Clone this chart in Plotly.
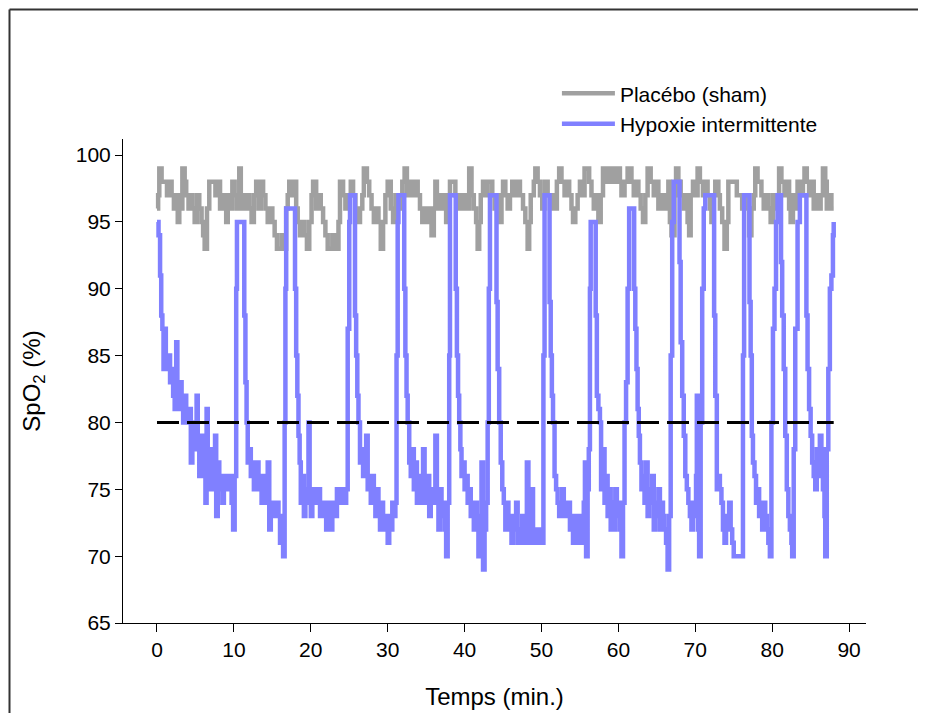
import plotly.graph_objects as go

# ---------------- data ----------------
placebo_t = [0, 0.15, 0.3, 0.6, 1.0, 1.3, 1.5, 1.9, 2.2, 2.5, 2.7, 2.9, 3.1, 3.3, 3.6, 3.8, 4.1, 4.4, 4.6, 4.9,
             5.2, 5.5, 5.8, 6.0, 6.2, 6.5, 6.8, 7.3, 7.6, 7.9, 8.2, 8.5, 8.8, 9.0, 9.2, 9.5, 9.8, 10.1, 10.4, 10.7,
             10.9, 11.1, 11.4, 11.7, 12.0, 12.3, 12.6, 12.9, 13.2, 13.5, 13.8, 14.1, 14.4, 14.7, 15.0, 15.3, 15.6, 16.2, 16.5, 16.8,
             17.0, 17.2, 17.5, 17.8, 18.1, 18.3, 18.6, 18.9, 19.2, 19.5, 19.8, 20.1, 20.3, 20.7, 21.0, 21.3, 21.6, 21.9, 22.2, 22.8,
             23.2, 23.6, 23.8, 24.2, 24.5, 24.8, 25.2, 25.5, 25.8, 26.1, 26.4, 26.7, 26.9, 27.3, 27.6, 27.9, 28.2, 28.5, 28.8, 29.1,
             29.4, 29.7, 30.0, 30.4, 30.7, 31.0, 31.3, 31.6, 31.9, 32.2, 32.5, 32.8, 33.2, 33.5, 33.9, 34.2, 34.5, 34.8, 35.1, 35.4,
             35.7, 36.0, 36.2, 36.4, 36.7, 37.0, 37.3, 37.6, 37.9, 38.1, 38.8, 39.1, 39.4, 39.7, 40.0, 40.3, 40.6, 40.9, 41.2, 41.5,
             41.7, 41.9, 42.1, 42.4, 42.7, 43.0, 43.6, 43.9, 44.2, 44.5, 44.8, 45.0, 45.3, 45.6, 45.9, 46.2, 46.6, 46.9, 47.2, 47.6,
             47.9, 48.2, 48.4, 48.6, 49.0, 49.2, 49.5, 49.8, 50.1, 50.4, 50.8, 51.1, 51.4, 51.7, 52.0, 52.3, 52.6, 53.0, 53.3, 53.6,
             53.9, 54.1, 54.4, 54.7, 55.0, 55.4, 55.6, 56.2, 56.5, 56.8, 57.1, 57.4, 57.7, 58.0, 58.4, 58.6, 59.0, 59.2, 59.5, 59.8,
             60.2, 60.4, 60.8, 61.2, 61.7, 62.0, 62.3, 62.6, 62.9, 63.2, 63.5, 63.8, 64.2, 64.6, 64.9, 65.2, 65.6, 65.9, 66.2, 66.5,
             66.7, 66.9, 67.3, 67.5, 67.8, 68.1, 68.5, 68.8, 69.0, 69.2, 69.4, 69.7, 70.0, 70.3, 70.6, 71.0, 71.3, 71.6, 71.9, 72.1,
             72.3, 72.6, 73.0, 73.2, 73.5, 73.8, 74.1, 74.3, 75.4, 75.8, 76.1, 76.4, 76.7, 77.0, 77.3, 77.6, 77.8, 78.1, 78.6, 78.9,
             79.2, 79.5, 79.8, 80.1, 80.4, 80.7, 80.9, 81.2, 81.6, 81.9, 82.2, 82.4, 82.7, 83.0, 83.3, 83.7, 84.0, 84.2, 84.5, 84.8,
             85.1, 85.4, 85.7, 86.0, 86.3, 86.6, 86.9, 87.1, 87.4, 87.7, 88.0]
placebo_v = [96, 97, 99, 98, 98, 97, 98, 97, 96, 97, 95, 97, 96, 99, 98, 97, 96, 97, 96, 95,
             97, 96, 95, 94, 93, 96, 98, 98, 97, 98, 96, 97, 96, 95, 97, 96, 98, 97, 96, 99,
             96, 97, 96, 97, 96, 95, 97, 98, 96, 98, 97, 96, 95, 96, 95, 94, 93, 94, 93, 96,
             97, 98, 97, 98, 96, 95, 94, 95, 94, 93, 95, 97, 98, 96, 97, 96, 95, 94, 93, 94,
             93, 95, 98, 97, 96, 97, 98, 97, 96, 95, 96, 97, 99, 98, 97, 96, 95, 96, 95, 93,
             95, 97, 98, 96, 95, 97, 96, 97, 98, 99, 97, 98, 97, 98, 97, 96, 95, 96, 95, 96,
             94, 96, 98, 96, 97, 96, 97, 95, 97, 98, 97, 96, 97, 96, 97, 96, 99, 97, 96, 95,
             93, 95, 97, 98, 97, 98, 97, 96, 97, 95, 97, 98, 97, 96, 97, 98, 97, 98, 97, 96,
             95, 93, 95, 97, 98, 99, 98, 97, 96, 98, 97, 96, 97, 96, 98, 99, 98, 97, 98, 97,
             96, 95, 96, 97, 98, 97, 99, 98, 97, 96, 97, 95, 97, 99, 98, 99, 98, 99, 98, 99,
             98, 97, 98, 99, 98, 97, 98, 97, 96, 95, 97, 99, 98, 97, 98, 96, 97, 96, 97, 98,
             95, 94, 97, 99, 98, 97, 96, 97, 95, 94, 97, 98, 97, 99, 98, 97, 98, 97, 96, 95,
             97, 98, 97, 96, 95, 93, 95, 98, 97, 97, 96, 97, 96, 94, 96, 97, 99, 98, 97, 96,
             97, 96, 95, 97, 96, 97, 99, 98, 97, 98, 96, 95, 97, 96, 98, 97, 98, 99, 98, 97,
             98, 96, 97, 96, 97, 99, 98, 96, 97, 96, 96]

hypoxia_t = [0, 0.2, 0.4, 0.55, 0.7, 0.85, 1.0, 1.15, 1.3, 1.5, 1.7, 1.9, 2.1, 2.3, 2.5, 2.65, 2.8, 3.0, 3.2, 3.4,
             3.6, 3.8, 4.0, 4.2, 4.4, 4.6, 4.8, 5.0, 5.15, 5.3, 5.5, 5.7, 5.9, 6.1, 6.3, 6.45, 6.6, 6.8, 7.0, 7.2,
             7.4, 7.55, 7.7, 7.9, 8.1, 8.3, 8.5, 8.7, 8.9, 9.1, 9.3, 9.5, 9.7, 9.9, 10.1, 10.3, 10.4, 11.2, 11.35, 11.5,
             11.65, 11.8, 12.0, 12.2, 12.4, 12.6, 12.8, 13.0, 13.2, 13.4, 13.6, 13.8, 14.0, 14.2, 14.4, 14.6, 14.8, 15.0, 15.2, 15.4,
             15.6, 15.8, 16.0, 16.2, 16.4, 16.6, 16.7, 16.8, 17.8, 17.95, 18.1, 18.25, 18.4, 18.55, 18.7, 18.9, 19.1, 19.3, 19.5, 19.7,
             19.85, 20.0, 20.2, 20.4, 20.6, 20.8, 21.0, 21.2, 21.4, 21.6, 21.8, 22.0, 22.2, 22.4, 22.6, 22.8, 23.0, 23.2, 23.4, 23.6,
             23.8, 24.0, 24.2, 24.4, 24.6, 24.8, 25.0, 25.1, 25.6, 25.75, 25.9, 26.05, 26.2, 26.4, 26.6, 26.8, 27.0, 27.2, 27.4, 27.6,
             27.8, 28.0, 28.2, 28.4, 28.6, 28.8, 29.0, 29.2, 29.4, 29.6, 29.8, 30.0, 30.2, 30.4, 30.6, 30.8, 31.0, 31.15, 31.3, 31.4,
             32.0, 32.15, 32.3, 32.45, 32.6, 32.8, 33.0, 33.2, 33.4, 33.6, 33.8, 34.0, 34.2, 34.4, 34.6, 34.8, 35.0, 35.2, 35.4, 35.6,
             35.8, 36.0, 36.2, 36.4, 36.6, 36.8, 37.0, 37.2, 37.4, 37.6, 37.8, 38.0, 38.1, 38.7, 38.85, 39.0, 39.15, 39.3, 39.45, 39.6,
             39.8, 40.0, 40.2, 40.4, 40.6, 40.8, 41.0, 41.2, 41.4, 41.6, 41.8, 42.0, 42.2, 42.4, 42.6, 42.8, 43.0, 43.15, 43.3, 44.0,
             44.15, 44.3, 44.5, 44.7, 44.9, 45.1, 45.3, 45.5, 45.7, 45.9, 46.1, 46.3, 46.5, 46.7, 46.9, 47.1, 47.3, 47.5, 47.7, 47.9,
             48.1, 48.3, 48.5, 48.7, 48.9, 49.1, 49.3, 49.5, 49.7, 49.9, 50.1, 50.25, 50.4, 50.9, 51.05, 51.2, 51.35, 51.5, 51.7, 51.9,
             52.1, 52.3, 52.5, 52.7, 52.9, 53.1, 53.3, 53.5, 53.7, 53.9, 54.1, 54.3, 54.5, 54.7, 54.9, 55.1, 55.3, 55.5, 55.65, 55.8,
             56.0, 56.15, 56.3, 56.4, 56.9, 57.05, 57.2, 57.4, 57.6, 57.75, 57.9, 58.05, 58.2, 58.4, 58.6, 58.8, 59.0, 59.2, 59.4, 59.6,
             59.8, 60.0, 60.2, 60.4, 60.6, 60.8, 61.0, 61.2, 61.4, 61.9, 62.05, 62.2, 62.35, 62.5, 62.65, 62.8, 63.0, 63.2, 63.4, 63.6,
             63.8, 64.0, 64.2, 64.4, 64.6, 64.8, 65.0, 65.2, 65.4, 65.6, 65.8, 66.0, 66.2, 66.4, 66.6, 66.8, 67.0, 67.2, 67.8, 67.95,
             68.1, 68.3, 68.5, 68.7, 68.9, 69.1, 69.3, 69.5, 69.7, 69.9, 70.1, 70.2, 70.35, 70.5, 70.7, 70.9, 71.1, 71.3, 72.3, 72.45,
             72.6, 72.8, 73.0, 73.2, 73.4, 73.6, 73.8, 74.0, 74.2, 74.4, 74.6, 74.8, 75.0, 76.1, 76.2, 76.35, 76.9, 77.05, 77.2, 77.35,
             77.5, 77.7, 77.9, 78.1, 78.3, 78.5, 78.7, 78.9, 79.1, 79.3, 79.5, 79.7, 79.9, 80.1, 80.3, 80.5, 80.7, 81.0, 81.15, 81.3,
             81.5, 81.7, 81.9, 82.1, 82.3, 82.5, 82.6, 82.8, 83.0, 83.3, 83.6, 84.3, 84.45, 84.6, 84.8, 85.0, 85.2, 85.4, 85.6, 85.8,
             86.0, 86.2, 86.4, 86.6, 86.8, 86.9, 87.1, 87.3, 87.5, 87.7, 87.9, 88.0]
hypoxia_v = [95, 94, 91, 88, 87, 84, 87, 85, 84, 85, 83, 84, 82, 81, 86, 82, 81, 83, 82, 80,
             82, 81, 80, 81, 77, 80, 79, 78, 82, 78, 76, 79, 77, 76, 74, 81, 77, 75, 78, 76,
             75, 79, 73, 77, 75, 76, 74, 76, 75, 76, 75, 76, 74, 72, 76, 90, 95, 95, 88, 83,
             80, 77, 78, 76, 77, 75, 76, 77, 75, 76, 74, 76, 75, 74, 77, 72, 74, 73, 74, 73,
             74, 73, 71, 73, 70, 80, 90, 96, 96, 90, 85, 82, 79, 77, 74, 76, 73, 75, 74, 80,
             75, 73, 75, 74, 75, 74, 75, 73, 74, 73, 74, 72, 73, 74, 72, 73, 74, 73, 75, 74,
             75, 74, 75, 74, 75, 87, 95, 97, 97, 88, 85, 82, 80, 77, 78, 76, 77, 79, 75, 76,
             74, 76, 74, 73, 75, 73, 72, 74, 72, 73, 72, 71, 73, 72, 74, 73, 74, 85, 95, 97,
             97, 90, 85, 82, 80, 77, 76, 78, 75, 77, 74, 75, 76, 74, 78, 75, 74, 76, 73, 74,
             75, 74, 79, 74, 72, 75, 73, 74, 72, 70, 74, 85, 97, 97, 90, 85, 82, 80, 78, 76,
             77, 75, 76, 74, 75, 73, 74, 72, 74, 72, 70, 73, 77, 69, 72, 74, 80, 90, 97, 97,
             89, 84, 80, 77, 75, 74, 72, 74, 72, 73, 71, 73, 72, 74, 71, 72, 71, 73, 71, 72,
             77, 71, 72, 75, 71, 72, 71, 72, 71, 72, 71, 85, 97, 97, 89, 85, 82, 80, 76, 75,
             74, 73, 74, 75, 73, 74, 73, 74, 72, 73, 71, 73, 72, 71, 73, 71, 72, 74, 77, 70,
             75, 78, 90, 95, 95, 88, 82, 81, 80, 75, 77, 78, 74, 76, 73, 75, 72, 74, 72, 75,
             73, 74, 72, 70, 74, 80, 83, 90, 96, 96, 90, 87, 84, 81, 79, 77, 75, 76, 74, 77,
             73, 75, 74, 76, 72, 74, 73, 75, 72, 74, 73, 72, 71, 69, 73, 85, 95, 98, 98, 92,
             86, 82, 79, 76, 75, 74, 73, 72, 74, 73, 76, 82, 72, 70, 80, 90, 96, 97, 97, 88,
             82, 75, 76, 75, 74, 72, 71, 73, 72, 74, 72, 71, 70, 70, 85, 97, 97, 89, 85, 79,
             77, 76, 74, 75, 73, 74, 72, 74, 73, 72, 71, 70, 80, 87, 90, 95, 97, 97, 92, 88,
             84, 79, 75, 73, 72, 71, 70, 78, 87, 95, 97, 97, 88, 84, 81, 79, 77, 76, 75, 78,
             76, 79, 78, 75, 73, 70, 78, 84, 90, 91, 94, 95]

threshold_t = [0, 88]
threshold_v = [80, 80]

x_ticks = [0, 10, 20, 30, 40, 50, 60, 70, 80, 90]
y_ticks = [65, 70, 75, 80, 85, 90, 95, 100]

# ---------------- figure ----------------
FONT = "Liberation Sans, Arial, sans-serif"
ML, MR, MT, MB = 115, 68, 131, 98
PW = 926 - ML - MR
PH = 713 - MT - MB

fig = go.Figure()
fig.add_trace(go.Scatter(x=placebo_t, y=placebo_v, mode="lines", name="Placébo (sham)",
                         line=dict(color="#a0a0a0", width=4.5, shape="hv")))
fig.add_trace(go.Scatter(x=hypoxia_t, y=hypoxia_v, mode="lines", name="Hypoxie intermittente",
                         line=dict(color="#8080ff", width=4.5, shape="hv")))
fig.add_trace(go.Scatter(x=threshold_t, y=threshold_v, mode="lines", showlegend=False,
                         line=dict(color="black", width=3, dash="22px,8px")))

# frame around the figure (only the top and left edges are visible in the reference)
frame_left = (1.5 - ML) / PW
frame_top = (PH + MT - 1.5) / PH
frame_style = dict(color="#333333", width=2)

fig.update_layout(
    width=926, height=713,
    paper_bgcolor="white", plot_bgcolor="white",
    margin=dict(l=ML, r=MR, t=MT, b=MB),
    font=dict(family=FONT, size=21, color="black"),
    showlegend=True,
    legend=dict(x=0.584, y=1.136, xanchor="left", yanchor="top", itemwidth=53,
                font=dict(size=21), bgcolor="rgba(0,0,0,0)", tracegroupgap=0),
    xaxis=dict(range=[-4.42, 92.2], tickvals=x_ticks, ticks="outside", ticklen=8, tickwidth=1,
               tickcolor="black", showline=True, linecolor="black", linewidth=1,
               showgrid=False, zeroline=False, tickfont=dict(size=21),
               title=dict(text="Temps (min.)", font=dict(size=24), standoff=27)),
    yaxis=dict(range=[65, 101.2], tickvals=y_ticks, ticks="outside", ticklen=7, tickwidth=1,
               tickcolor="black", showline=True, linecolor="black", linewidth=1,
               showgrid=False, zeroline=False, tickfont=dict(size=21),
               title=dict(text="SpO<sub>2</sub> (%)", font=dict(size=24), standoff=28)),
    shapes=[
        dict(type="line", xref="paper", yref="paper", x0=frame_left, x1=(960 - ML) / PW,
             y0=frame_top, y1=frame_top, line=frame_style, layer="below"),
        dict(type="line", xref="paper", yref="paper", x0=frame_left, x1=frame_left,
             y0=frame_top, y1=-(MB + 30) / PH, line=frame_style, layer="below"),
    ],
)

fig.write_html("out.html")
